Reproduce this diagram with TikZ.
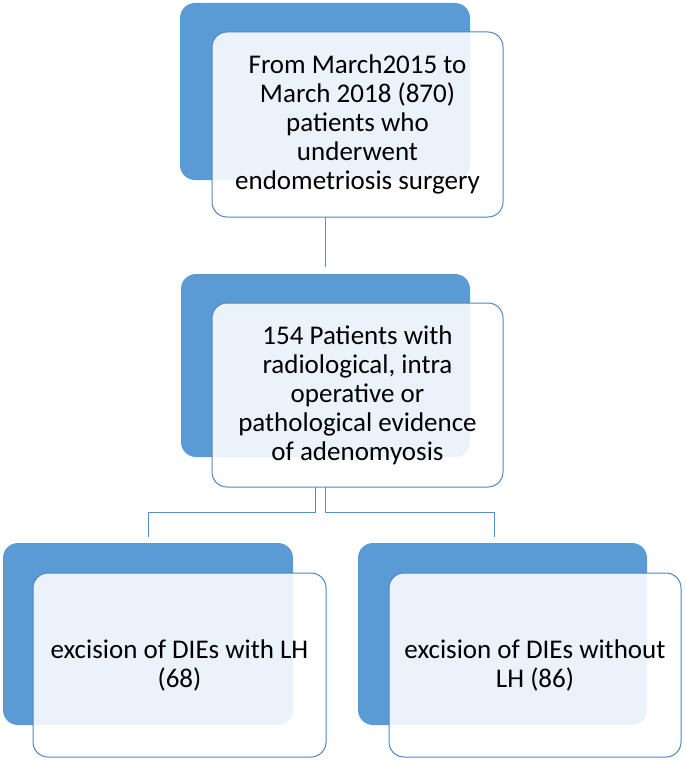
\documentclass[tikz,border=0pt]{standalone}
\usepackage{fontspec}
\setmainfont{Carlito}
\usetikzlibrary{calc}
\definecolor{bluefill}{HTML}{5B9BD5}
\definecolor{blueline}{HTML}{4F86C2}
\definecolor{conncol}{HTML}{5A8FC8}
\begin{document}
\begin{tikzpicture}[x=1pt,y=-1pt,
  backbox/.style={fill=bluefill,draw=none,rounded corners=15pt,inner sep=0pt,outer sep=0pt},
  frontbox/.style={fill=white,fill opacity=0.88,text opacity=1,draw=blueline,line width=1pt,
    rounded corners=15pt,inner sep=0pt,outer sep=0pt,align=center,
    font=\fontsize{27}{29}\selectfont},
  conn/.style={draw=conncol,line width=1pt}]
\useasboundingbox (0,0) rectangle (685,762);
% top
\node[backbox,minimum width=290pt,minimum height=177pt] (b1) at (325,91.5) {};
\node[frontbox,minimum width=291pt,minimum height=185pt] (w1) at (357.5,124.5)
  {From March2015 to\\March 2018 (870)\\patients who\\underwent\\endometriosis surgery};
% middle
\node[backbox,minimum width=289pt,minimum height=183pt] (b2) at (325.5,365.5) {};
\node[frontbox,minimum width=291pt,minimum height=184pt] (w2) at (357.5,395)
  {154 Patients with\\radiological, intra\\operative or\\pathological evidence\\of adenomyosis};
% bottom left
\node[backbox,minimum width=290pt,minimum height=182pt] (b3) at (148,634) {};
\node[frontbox,minimum width=293pt,minimum height=184pt] (w3) at (179.5,665)
  {excision of DIEs with LH\\(68)};
% bottom right
\node[backbox,minimum width=289pt,minimum height=182pt] (b4) at (502.5,634) {};
\node[frontbox,minimum width=292pt,minimum height=184pt] (w4) at (535,665)
  {excision of DIEs without\\LH (86)};
% connectors
\draw[conn,shorten >=7pt] (b2.north |- w1.south) -- (b2.north);
\coordinate (sL) at ($(b2.north |- w2.south)+(-10,0)$);
\coordinate (sR) at (b2.north |- w2.south);
\draw[conn] (sL) -- ++(0,25) -| ([yshift=6pt]b3.north);
\draw[conn] (sR) -- ++(0,25) -| ([yshift=6pt,xshift=-8pt]b4.north);
\end{tikzpicture}
\end{document}
